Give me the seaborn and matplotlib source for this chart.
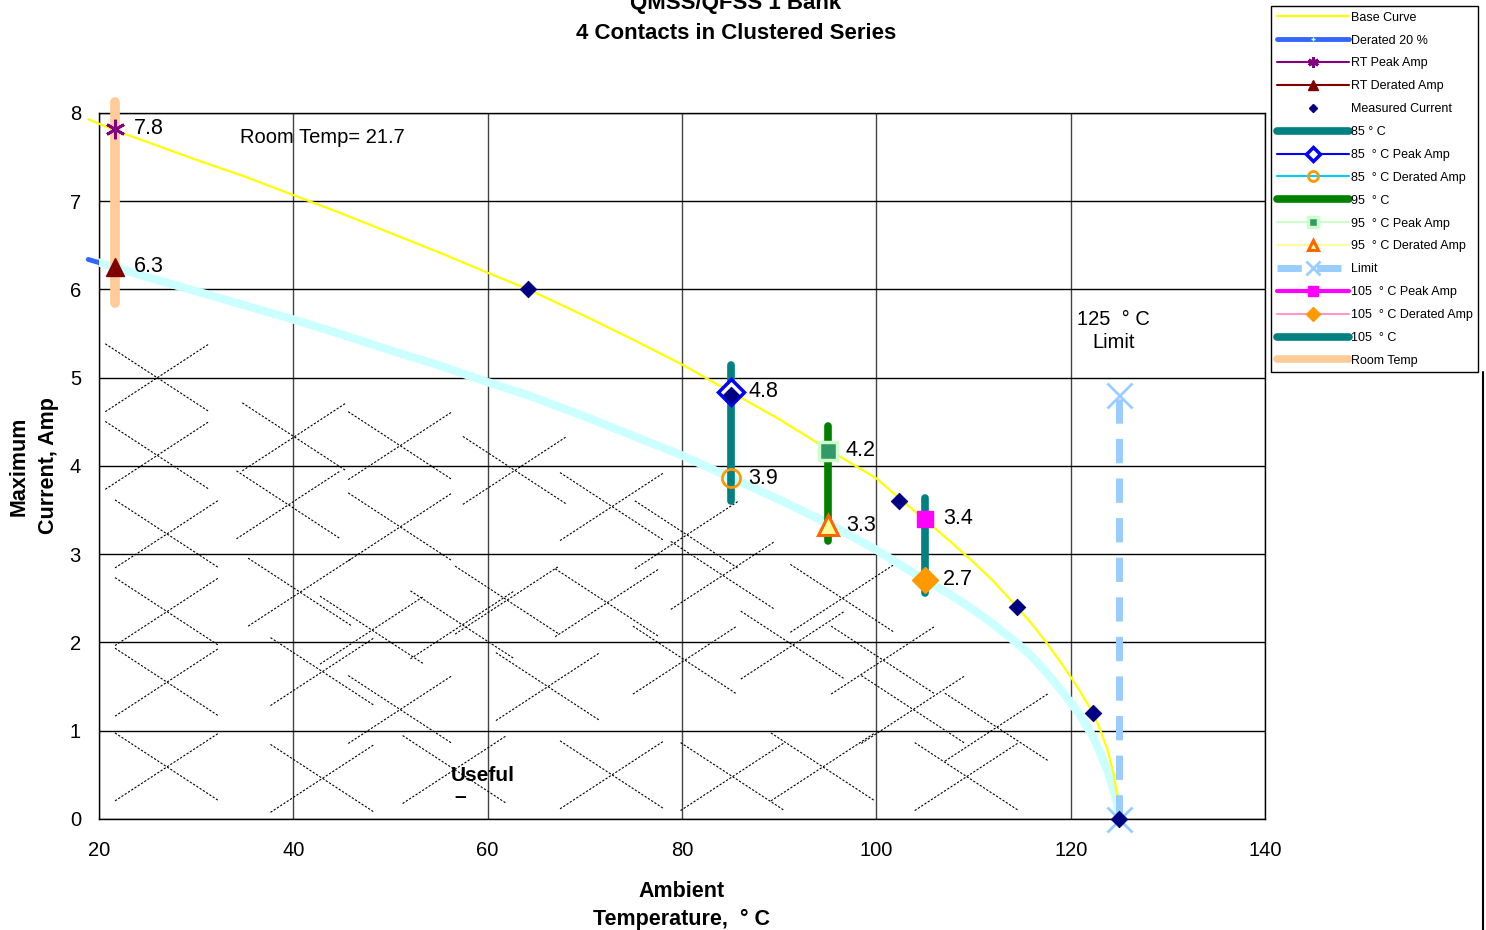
import numpy as np
import pandas as pd
import seaborn as sns
import matplotlib.pyplot as plt
from matplotlib.lines import Line2D

# ---- data ----
# base curve (yellow) and 20 % derated curve, ambient temperature in deg C
curve_temp = [18.9, 21.7, 25, 30, 35, 40, 45, 50, 55, 60, 64.2, 70, 75, 80, 85,
              90, 95, 100, 102.3, 105, 107.5, 110, 112, 114.5, 116, 117.5, 119,
              120, 121, 122.3, 123, 123.8, 124.4, 124.8, 125]
base_amp = [7.93, 7.80, 7.67, 7.47, 7.28, 7.07, 6.86, 6.64, 6.42, 6.19, 6.00,
            5.70, 5.43, 5.15, 4.84, 4.53, 4.19, 3.86, 3.64, 3.39, 3.155, 2.91,
            2.70, 2.40, 2.21, 2.00, 1.77, 1.61, 1.44, 1.20, 1.02, 0.78, 0.52,
            0.27, 0.0]
derated_amp = [6.34, 6.25, 6.14, 5.98, 5.82, 5.66, 5.49, 5.31, 5.14, 4.95, 4.80,
               4.56, 4.34, 4.12, 3.87, 3.62, 3.35, 3.05, 2.89, 2.71, 2.55, 2.37,
               2.21, 1.99, 1.84, 1.66, 1.46, 1.32, 1.17, 0.93, 0.76, 0.54, 0.33,
               0.16, 0.0]

measured_temp = [64.2, 85, 102.3, 114.5, 122.3, 125]
measured_amp = [6.0, 4.8, 3.6, 2.4, 1.2, 0.0]

# room temp, 85, 95, 105 deg C checkpoints
check_temp = [21.7, 85, 95, 105]
peak_amp = [7.82, 4.84, 4.17, 3.40]
derate_amp = [6.26, 3.86, 3.33, 2.71]
bar_low = [5.85, 3.60, 3.15, 2.56]
bar_high = [8.12, 5.14, 4.45, 3.64]

limit_temp = [125, 125]
limit_amp = [0.0, 4.8]

# "Useful" region cross hatch (cross centres)
cross_temp = [26.0, 26.0, 27.0, 27.0, 27.0, 27.0, 40.1, 39.5, 40.7, 43.0, 43.0,
              51.0, 51.0, 48.1, 51.0, 62.8, 57.4, 56.6, 72.8, 80.5, 84.2, 72.3,
              62.0, 66.2, 80.3, 91.4, 96.5, 100.7, 72.8, 85.2, 94.5, 103.8,
              112.4, 109.3]
cross_amp = [5.00, 4.12, 3.23, 2.35, 1.55, 0.59, 4.33, 3.56, 2.57, 1.67, 0.46,
             4.23, 3.31, 2.14, 1.24, 3.95, 2.20, 0.56, 3.54, 3.22, 2.76, 2.45,
             2.48, 1.50, 1.80, 1.97, 2.50, 1.80, 0.50, 0.48, 0.59, 1.24,
             1.04, 0.48]

sns.set_theme(style="white")
plt.rcParams['font.family'] = ['Liberation Sans', 'DejaVu Sans']
plt.rcParams['text.color'] = 'black'
plt.rcParams['axes.labelcolor'] = 'black'

fig = plt.figure(figsize=(14.86, 9.30), dpi=100)
ax = fig.add_axes([0.0666, 0.1194, 0.7847, 0.7591])

# hatch crosses
for t, a in zip(cross_temp, cross_amp):
    for s in (1, -1):
        ax.plot([t - 5.35, t + 5.35], [a - s * 0.385, a + s * 0.385],
                color='black', lw=0.8, ls=(0, (2, 1.5)), zorder=1)

curves = pd.DataFrame({'temp': curve_temp, 'base': base_amp, 'derated': derated_amp})

sns.lineplot(data=curves, x='temp', y='derated', ax=ax, color='#3366FF', lw=3.5,
             sort=False, estimator=None, clip_on=False, zorder=3, legend=False)
sns.lineplot(data=curves, x='temp', y='derated', ax=ax, color='#CCFFFF', lw=6,
             sort=False, estimator=None, zorder=3, legend=False)
sns.lineplot(data=curves, x='temp', y='base', ax=ax, color='#FFFF00', lw=1.6,
             sort=False, estimator=None, clip_on=False, zorder=4, legend=False)

# vertical bars
bar_colors = ['#FFCC99', '#008080', '#008000', '#008080']
bar_widths = [7, 5.5, 5.5, 5.5]
for t, lo, hi, c, w in zip(check_temp, bar_low, bar_high, bar_colors, bar_widths):
    ax.plot([t, t], [lo, hi], color=c, lw=w, solid_capstyle='round', zorder=5,
            clip_on=False)

# limit line
lim, = ax.plot(limit_temp, limit_amp, color='#99CCFF', lw=5, ls=(0, (3.5, 2.2)),
               marker='x', ms=18, mew=2, zorder=4, clip_on=False,
               label='Limit')

# peak and derated markers (single point series, line shows only in legend)
rt_pk, = ax.plot(check_temp[0], peak_amp[0], color='#800080', lw=1.5,
                 marker=(6, 2, 0), ms=14, mew=2, zorder=7, label='RT Peak Amp')
rt_dr, = ax.plot(check_temp[0], derate_amp[0], color='#800000', lw=1.5,
                 marker='^', ms=13, zorder=7, label='RT Derated Amp')
pk85, = ax.plot(check_temp[1], peak_amp[1], color='#0000FF', lw=1.5, marker='D',
                ms=13, mfc='white', mec='#0000FF', mew=2.5, zorder=7,
                label='85  ° C Peak Amp')
dr85, = ax.plot(check_temp[1], derate_amp[1], color='#00CCFF', lw=1.5, marker='o',
                ms=13, mfc='none', mec='#FF9900', mew=2, zorder=7,
                label='85  ° C Derated Amp')
pk95, = ax.plot(check_temp[2], peak_amp[2], color='#CCFFCC', lw=1.5, marker='s',
                ms=13, mfc='#339966', mec='#CCFFCC', mew=2.5, zorder=7,
                label='95  ° C Peak Amp')
dr95, = ax.plot(check_temp[2], derate_amp[2], color='#FFFF99', lw=1.5, marker='^',
                ms=14, mfc='#FFFF99', mec='#FF6600', mew=2.2, zorder=7,
                label='95  ° C Derated Amp')
pk105, = ax.plot(check_temp[3], peak_amp[3], color='#FF00FF', lw=3, marker='s',
                 ms=12, mfc='#FF00FF', mec='#FF00FF', zorder=7,
                 label='105  ° C Peak Amp')
dr105, = ax.plot(check_temp[3], derate_amp[3], color='#FF99CC', lw=1.5, marker='D',
                 ms=13, mfc='#FF9900', mec='#FF9900', zorder=7,
                 label='105  ° C Derated Amp')

sns.scatterplot(x=measured_temp, y=measured_amp, ax=ax, marker='D', s=70,
                color='#000080', edgecolor='#000080', zorder=8, clip_on=False,
                legend=False)

# value labels
for t, v in list(zip(check_temp, peak_amp)) + list(zip(check_temp, derate_amp)):
    ax.annotate(f'{v:.1f}', (t, v), xytext=(13, 0), textcoords='offset points',
                ha='left', va='center', fontsize=15.5, color='black', zorder=9)

ax.text(34.5, 7.72, 'Room Temp= 21.7', fontsize=14.5, ha='left', va='center')
ax.text(124.4, 5.53, '125  ° C\nLimit', fontsize=14.5, ha='center', va='center',
        linespacing=1.3)
ax.text(56.2, 0.49, 'Useful', fontsize=15, fontweight='bold', ha='left', va='center')
ax.text(56.6, 0.25, '–', fontsize=15, fontweight='bold', ha='left', va='center')

# axes styling
ax.set_xlim(20, 140)
ax.set_ylim(0, 8)
ax.set_xticks(np.arange(20, 141, 20))
ax.set_yticks(np.arange(0, 9, 1))
ax.grid(True, axis='y', color='black', lw=1)
ax.grid(True, axis='x', color='#444444', lw=1)
ax.set_axisbelow(True)
for sp in ax.spines.values():
    sp.set_color('black')
    sp.set_linewidth(1)
ax.tick_params(axis='both', direction='out', length=5, width=1, color='black',
               labelsize=14.5, labelcolor='black', pad=8)
ax.tick_params(axis='x', pad=11)
ax.set_xlabel('Ambient\nTemperature,  ° C', fontsize=15.5, fontweight='bold',
              labelpad=15, linespacing=1.45)
ax.set_ylabel('Maximum\nCurrent, Amp', fontsize=15.5, fontweight='bold',
              labelpad=8, linespacing=1.5)
if ax.get_legend() is not None:
    ax.get_legend().remove()

fig.text(0.4953, 0.9957, 'QMSS/QFSS 1 Bank', fontsize=16, fontweight='bold',
         ha='center', va='center')
fig.text(0.4953, 0.9645, '4 Contacts in Clustered Series', fontsize=16,
         fontweight='bold', ha='center', va='center')

# legend
leg_handles = [
    Line2D([], [], color='#FFFF00', lw=1.6, label='Base Curve'),
    Line2D([], [], color='#3366FF', lw=3.5, marker='+', ms=5, mec='#CCFFFF',
           solid_capstyle='round', label='Derated 20 %'),
    rt_pk, rt_dr,
    Line2D([], [], ls='none', marker='D', ms=7, color='#000080',
           label='Measured Current'),
    Line2D([], [], color='#008080', lw=5.5, solid_capstyle='round', label='85 ° C'),
    pk85, dr85,
    Line2D([], [], color='#008000', lw=5.5, solid_capstyle='round', label='95  ° C'),
    pk95, dr95, lim, pk105, dr105,
    Line2D([], [], color='#008080', lw=5.5, solid_capstyle='round', label='105  ° C'),
    Line2D([], [], color='#FFCC99', lw=5.5, solid_capstyle='round', label='Room Temp'),
]
leg = fig.legend(handles=leg_handles, loc='upper left',
                 bbox_to_anchor=(0.8553, 0.9935), borderaxespad=0,
                 fontsize=9, frameon=True, fancybox=False, framealpha=1,
                 edgecolor='black', handlelength=5.8, handletextpad=0.15,
                 labelspacing=0.87, borderpad=0.45, markerscale=0.55)
leg.get_frame().set_linewidth(1)

fig.add_artist(Line2D([0.998, 0.998], [0, 0.6], color='black', lw=1.5))

fig.savefig('out.png', dpi=100)
